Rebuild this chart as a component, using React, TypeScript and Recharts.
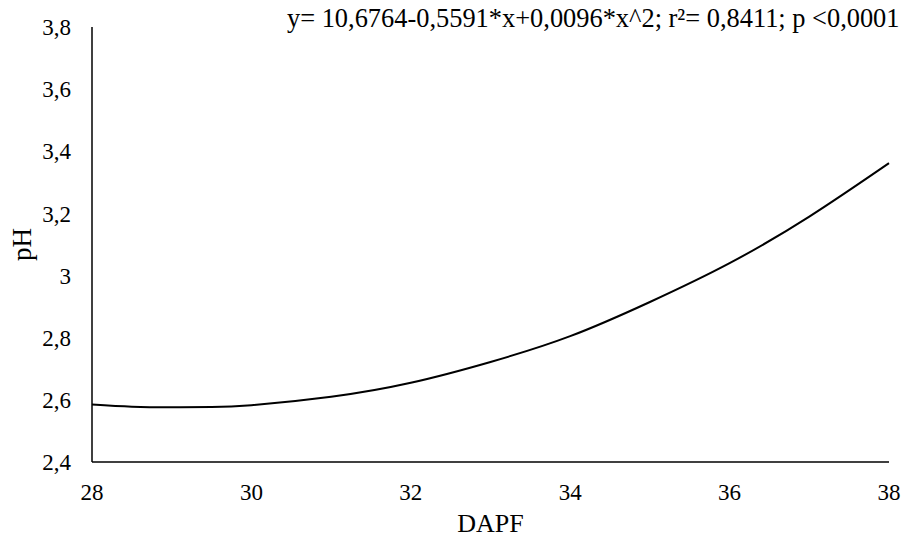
import React from 'react';
import { LineChart, Line, XAxis, YAxis, Label, Customized } from 'recharts';

const dapf = [28, 28.5, 29, 29.5, 30, 31, 32, 33, 34, 35, 36, 37, 38];
const ph = [2.585, 2.578, 2.576, 2.577, 2.583, 2.61, 2.655, 2.722, 2.805, 2.915, 3.04, 3.19, 3.362];
const xTicks = [28, 30, 32, 34, 36, 38];
const yTicks = [2.4, 2.6, 2.8, 3.0, 3.2, 3.4, 3.6, 3.8];
const yTickLabels = ['2,4', '2,6', '2,8', '3', '3,2', '3,4', '3,6', '3,8'];
const equation = 'y= 10,6764-0,5591*x+0,0096*x^2; r²= 0,8411; p <0,0001';
const xTitle = 'DAPF';
const yTitle = 'pH';

const data = dapf.map((x, i) => ({ x, y: ph[i] }));
const FONT = 'Liberation Serif';

const EquationText = () => (
  <text x={287} y={27} fontFamily={FONT} fontSize={26.4} fill="#000" style={{ fontFamily: FONT }}>
    {equation}
  </text>
);

const XTick = (props: any) => {
  const { x, y, payload } = props;
  return (
    <text x={x} y={y} dy="0.71em" textAnchor="middle" fill="#000" fontSize={23} fontFamily={FONT} style={{ fontFamily: FONT }}>
      {payload.value}
    </text>
  );
};

const YTick = (props: any) => {
  const { x, y, payload } = props;
  const idx = yTicks.findIndex((t) => Math.abs(t - payload.value) < 1e-9);
  return (
    <text x={x} y={y} dy="0.355em" textAnchor="end" fill="#000" fontSize={23} fontFamily={FONT} style={{ fontFamily: FONT }}>
      {idx >= 0 ? yTickLabels[idx] : String(payload.value)}
    </text>
  );
};

export default function App() {
  return (
    <div style={{ position: 'absolute', left: 0, top: 0, background: '#fff', fontFamily: FONT }}>
      <LineChart
        width={908}
        height={537}
        data={data}
        margin={{ top: 27, right: 19, bottom: 0, left: 0 }}
      >
        <XAxis
          dataKey="x"
          type="number"
          domain={[28, 38]}
          ticks={xTicks}
          height={75}
          tickLine={false}
          tickSize={0}
          tickMargin={22}
          axisLine={{ stroke: '#000', strokeWidth: 1.5 }}
          tick={(p: any) => <XTick {...p} />}
        >
          <Label
            value={xTitle}
            position="insideBottom"
            offset={5}
            style={{ fill: '#000', fontSize: 26, fontFamily: FONT }}
          />
        </XAxis>
        <YAxis
          type="number"
          domain={[2.4, 3.8]}
          ticks={yTicks}
          width={92}
          tickLine={false}
          tickSize={0}
          tickMargin={21}
          axisLine={{ stroke: '#000', strokeWidth: 1.5 }}
          tick={(p: any) => <YTick {...p} />}
        >
          <Label
            content={(props: any) => {
              const vb = props.viewBox || { x: 0, y: 27, width: 92, height: 435 };
              const cx = vb.x + 22;
              const cy = vb.y + vb.height / 2;
              return (
                <text
                  x={cx}
                  y={cy}
                  transform={`rotate(-90 ${cx} ${cy})`}
                  textAnchor="middle"
                  dominantBaseline="central"
                  fill="#000"
                  fontSize={27}
                  fontFamily={FONT}
                >
                  {yTitle}
                </text>
              );
            }}
          />
        </YAxis>
        <Line
          type="natural"
          dataKey="y"
          stroke="#000"
          strokeWidth={2}
          dot={false}
          isAnimationActive={false}
        />
        <Customized component={EquationText} />
      </LineChart>
    </div>
  );
}
